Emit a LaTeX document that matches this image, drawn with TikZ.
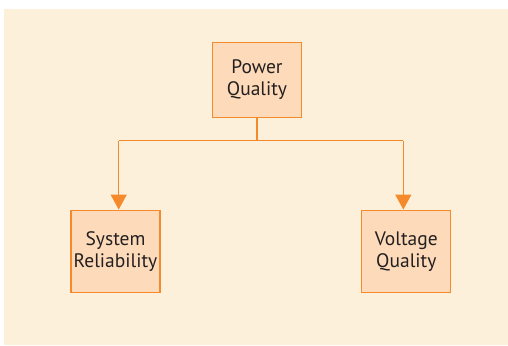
\documentclass[tikz,border=0pt]{standalone}
\usepackage{fontspec}
\setmainfont{PT Sans}
\usetikzlibrary{arrows.meta}
\definecolor{bgpeach}{HTML}{FDF0DA}
\definecolor{boxfill}{HTML}{FDDBBA}
\definecolor{lineorange}{HTML}{F48A2C}
\definecolor{txt}{HTML}{231F20}
\tikzset{
  box/.style={draw=lineorange, line width=1.2pt, fill=boxfill, minimum width=89pt, minimum height=82pt, align=center, text=txt, font=\fontsize{19.5}{22}\selectfont, inner sep=0pt},
  conn/.style={draw=lineorange, line width=1.2pt},
  arr/.style={conn, -{Triangle[length=15pt, width=16pt]}}
}
\begin{document}
\begin{tikzpicture}[x=1pt, y=-1pt]
\useasboundingbox (0,0) rectangle (508,345);
\fill[bgpeach] (4,9) rectangle (508,345);
\node[box, minimum height=75pt] (pq) at (257,79.7) {Power\\Quality};
\node[box] (sr) at (115.5,251.2) {System\\Reliability};
\node[box] (vq) at (406.3,251.2) {Voltage\\Quality};
\coordinate (j) at (257,140.7);
\coordinate (jl) at (118.7,140.7);
\coordinate (jr) at (403.3,140.7);
\draw[conn] (pq.south) -- (j);
\draw[conn] (jl) -- (jr);
\draw[arr] (jl) -- (jl |- sr.north);
\draw[arr] (jr) -- (jr |- vq.north);
\end{tikzpicture}
\end{document}
